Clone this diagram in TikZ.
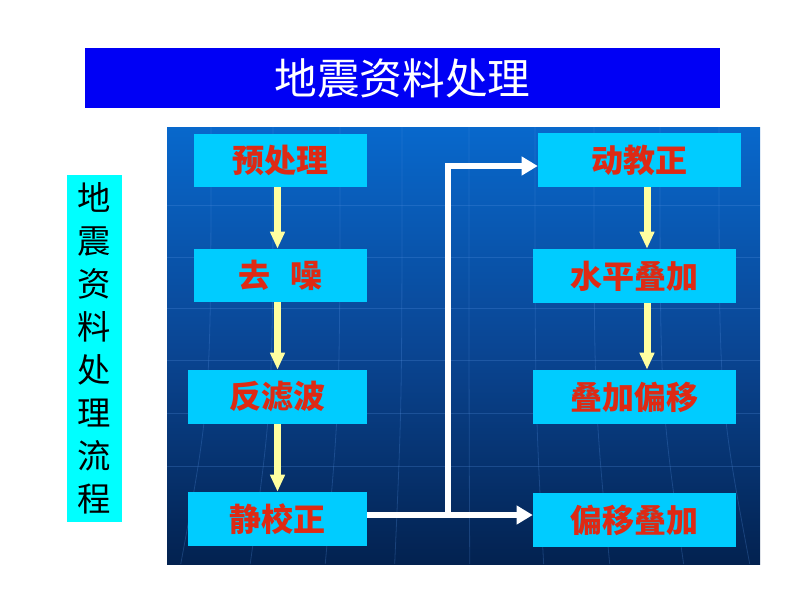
\documentclass[tikz,border=0pt]{standalone}
\usepackage{fontspec}
\newfontfamily\cjk{Noto Sans CJK SC}
\usetikzlibrary{arrows.meta}
\definecolor{titleblue}{RGB}{0,0,245}
\definecolor{sidecyan}{RGB}{0,255,255}
\definecolor{boxcyan}{RGB}{0,204,255}
\definecolor{txtred}{RGB}{222,42,20}
\definecolor{paleyellow}{RGB}{255,255,160}
\definecolor{ptop}{RGB}{8,104,204}
\definecolor{pmid}{RGB}{10,70,148}
\definecolor{pbot}{RGB}{3,34,80}
\definecolor{gridc}{RGB}{90,150,230}
\begin{document}
\begin{tikzpicture}[x=0.75pt,y=-0.75pt,
  flowbox/.style={fill=boxcyan, inner sep=0pt, text=txtred,
    font=\cjk\bfseries\fontsize{24pt}{28pt}\selectfont},
  leftbox/.style={flowbox, minimum width={179*0.75pt}, minimum height={54*0.75pt}},
  rightbox/.style={flowbox, minimum width={203*0.75pt}, minimum height={54*0.75pt}},
  yarrow/.style={draw=paleyellow, line width={7*0.75pt},
    -{Triangle[length={17*0.75pt}, width={14*0.75pt}, fill=paleyellow]}},
  warrow/.style={draw=white, line width={6*0.75pt},
    -{Triangle[length={16*0.75pt}, width={18*0.75pt}, fill=white]}},
  wline/.style={draw=white, line width={6*0.75pt}},
  gridline/.style={draw=gridc, line width=0.6pt, opacity=0.25}
]
\useasboundingbox[fill=white] (0,0) rectangle (800,600);

% title bar
\node[fill=titleblue, text=white, minimum width={635*0.75pt}, minimum height={60*0.75pt},
  inner sep=0pt, font=\cjk\fontsize{32pt}{36pt}\selectfont] (title) at (402.5,78) {地震资料处理};

% side label
\node[fill=sidecyan, text=black, minimum width={55*0.75pt}, minimum height={347*0.75pt},
  inner sep=0pt, align=center, font=\cjk\fontsize{25pt}{32.2pt}\selectfont] (side) at (94.5,348.5)
  {地\\震\\资\\料\\处\\理\\流\\程};

% panel
\shade[top color=ptop, bottom color=pbot, middle color=pmid] (167,127) rectangle (760,564);
\begin{scope}
\clip (167,127) rectangle (760,564);
\foreach \yy in {205,257,308,360,413,466} {
  \draw[gridline] (167,\yy) -- (760,\yy);
}
\foreach \xx in {211,273,340,402,469,535,594,660,719} {
  \draw[gridline] (\xx,127) .. controls (\xx,400) .. ({\xx+(\xx-463)*0.12},564);
}
\end{scope}

% flow boxes, left column
\node[flowbox, minimum width={173*0.75pt}, minimum height={53*0.75pt}] (ycl) at (280.5,160.5) {预处理};
\node[flowbox, minimum width={173*0.75pt}, minimum height={53*0.75pt}] (qz) at (280.5,275.5) {去\hspace{0.6em}噪};
\node[leftbox] (flb) at (277.5,397) {反滤波};
\node[leftbox] (jjz) at (277.5,519) {静校正};

% right column
\node[rightbox] (djz) at (639.5,160) {动教正};
\node[rightbox] (spdj) at (634.5,276) {水平叠加};
\node[rightbox] (djpy) at (634.5,397) {叠加偏移};
\node[rightbox] (pydj) at (634.5,520) {偏移叠加};

% helper coordinates
\coordinate (xl) at (277.5,0);
\coordinate (xr) at (647,0);
\coordinate (br) at (448,515);
\coordinate (tp) at (448,166);

% yellow arrows
\draw[yarrow] (ycl.south -| xl) -- (qz.north -| xl);
\draw[yarrow] (qz.south -| xl) -- (flb.north -| xl);
\draw[yarrow] (flb.south -| xl) -- (jjz.north -| xl);
\draw[yarrow] (djz.south -| xr) -- (spdj.north -| xr);
\draw[yarrow] (spdj.south -| xr) -- (djpy.north -| xr);

% white arrows
\draw[wline] (jjz.east |- br) -- (br);
\draw[warrow] (br) -- (pydj.west |- br);
\draw[warrow] (br) -- (tp) -- (djz.west |- tp);
\end{tikzpicture}
\end{document}
